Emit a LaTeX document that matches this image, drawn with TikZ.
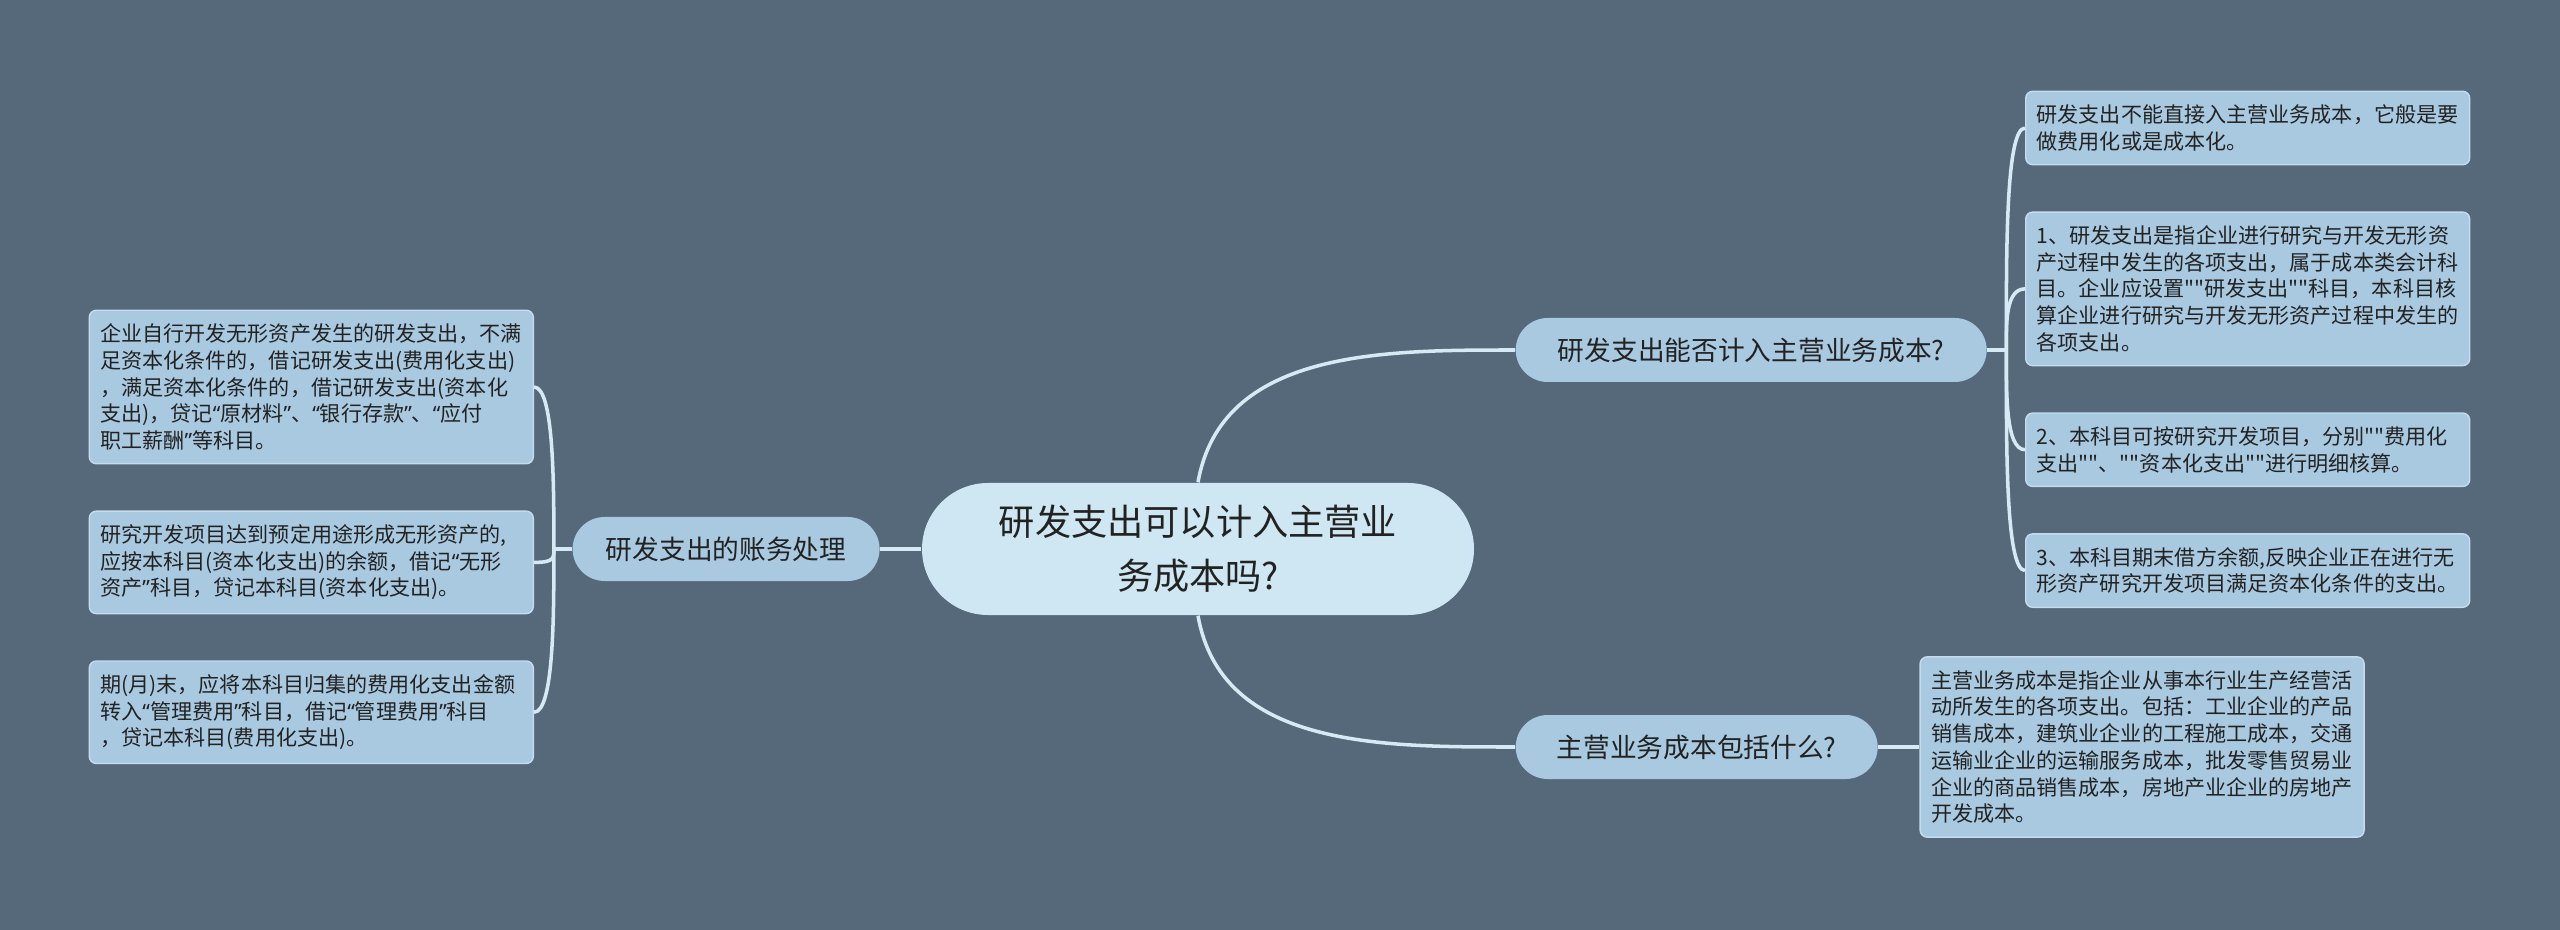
\documentclass[tikz,border=0pt]{standalone}
\usepackage{fontspec}
\usepackage{xcolor}
\usepackage{tikz}
\usetikzlibrary{positioning,calc}
\newfontfamily\cjk{Noto Sans CJK SC}
\newfontfamily\lat{Noto Sans}
\newcommand{\qopen}{{\lat “}}
\newcommand{\qclose}{{\lat ”}}
\definecolor{bgcol}{HTML}{55697A}
\definecolor{rootfill}{HTML}{CFE6F3}
\definecolor{nodefill}{HTML}{A9C9E1}
\definecolor{leafline}{HTML}{C4DCEE}
\definecolor{linkcol}{HTML}{D6EAF6}
\definecolor{ink}{HTML}{222222}

\begin{document}
\begin{tikzpicture}[
  root/.style={fill=rootfill,rounded corners=0.66cm,align=center,text=ink,
               minimum width=5.52cm,minimum height=1.32cm,
               font=\cjk\fontsize{10.3}{15.3}\selectfont},
  branch/.style={fill=nodefill,rounded corners=0.32cm,text=ink,
                 minimum height=0.64cm,font=\cjk\fontsize{7.6}{9}\selectfont},
  leaf/.style={draw=leafline,line width=0.4pt,fill=nodefill,rounded corners=0.07cm,
               text width=4.22cm,inner xsep=0.11cm,inner ysep=0.135cm,align=left,
               text=ink,font=\cjk\fontsize{6}{7.6}\selectfont},
  link/.style={draw=linkcol,line width=1pt}]
\fill[bgcol] (0,0) rectangle (25.6,-9.3);
\node[root] (root) at (11.98,-5.49) {研发支出可以计入主营业\\务成本吗?};
\node[branch,minimum width=4.71cm,anchor=west] (b1) at (15.15,-3.50) {研发支出能否计入主营业务成本?};
\node[branch,minimum width=3.62cm,anchor=west] (b2) at (15.15,-7.47) {主营业务成本包括什么?};
\node[branch,minimum width=3.07cm,left=0.41cm of root] (b3) {研发支出的账务处理};
\node[leaf,anchor=west] (rA) at (20.25,-1.28) {研发支出不能直接入主营业务成本，它般是要\\做费用化或是成本化。};
\node[leaf,below=0.46cm of rA] (rB) {1、研发支出是指企业进行研究与开发无形资\\产过程中发生的各项支出，属于成本类会计科\\目。企业应设置""研发支出""科目，本科目核\\算企业进行研究与开发无形资产过程中发生的\\各项支出。};
\node[leaf,below=0.46cm of rB] (rC) {2、本科目可按研究开发项目，分别""费用化\\支出""、""资本化支出""进行明细核算。};
\node[leaf,below=0.46cm of rC] (rD) {3、本科目期末借方余额,反映企业正在进行无\\形资产研究开发项目满足资本化条件的支出。};
\node[leaf,right=0.41cm of b2] (bA) {主营业务成本是指企业从事本行业生产经营活\\动所发生的各项支出。包括：工业企业的产品\\销售成本，建筑业企业的工程施工成本，交通\\运输业企业的运输服务成本，批发零售贸易业\\企业的商品销售成本，房地产业企业的房地产\\开发成本。};
\node[leaf,anchor=east] (L1) at (5.34,-3.87) {企业自行开发无形资产发生的研发支出，不满\\足资本化条件的，借记研发支出(费用化支出)\\，满足资本化条件的，借记研发支出(资本化\\支出)，贷记\qopen 原材料\qclose 、\qopen 银行存款\qclose 、\qopen 应付\\职工薪酬\qclose 等科目。};
\node[leaf,below=0.46cm of L1] (L2) {研究开发项目达到预定用途形成无形资产的,\\应按本科目(资本化支出)的余额，借记\qopen 无形\\资产\qclose 科目，贷记本科目(资本化支出)。};
\node[leaf,below=0.46cm of L2] (L3) {期(月)末，应将本科目归集的费用化支出金额\\转入\qopen 管理费用\qclose 科目，借记\qopen 管理费用\qclose 科目\\，贷记本科目(费用化支出)。};
\coordinate (j1) at ([xshift=0.19cm]b1.east);
\coordinate (j3) at ([xshift=-0.18cm]b3.west);
\draw[link] (root.north) to[out=80,in=180] (b1.west);
\draw[link] (root.south) to[out=-80,in=180] (b2.west);
\draw[link] (root.west) -- (b3.east);
\draw[link] (b1.east) -- (j1);
\foreach \n/\a in {rA/90,rB/90,rC/-90,rD/-90}
  \draw[link] (j1) to[out=\a,in=180,in distance=0.2cm] (\n.west);
\draw[link] (b2.east) -- (bA.west);
\draw[link] (b3.west) -- (j3);
\foreach \n/\a in {L1/90,L2/-90,L3/-90}
  \draw[link] (j3) to[out=\a,in=0,in distance=0.2cm] (\n.east);
\end{tikzpicture}
\end{document}
